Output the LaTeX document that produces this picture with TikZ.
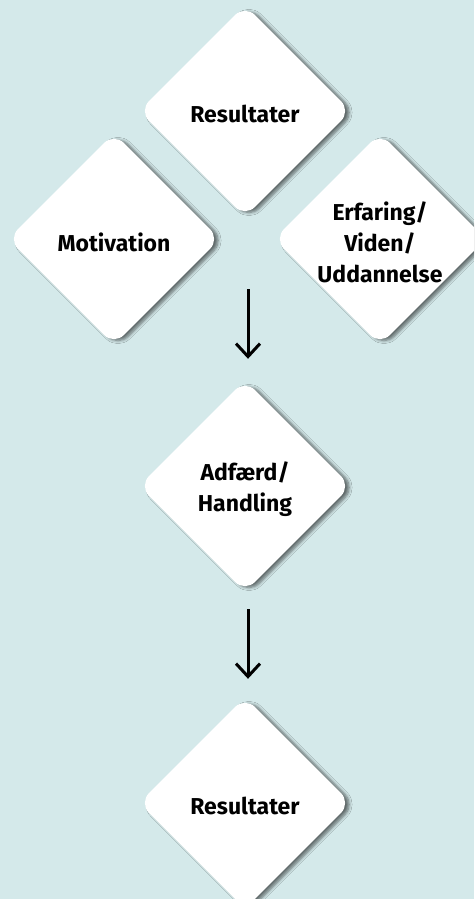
\documentclass[tikz,border=0pt]{standalone}
\usepackage{fontspec}
\setmainfont{Fira Sans}
\usetikzlibrary{arrows.meta,shapes.geometric,shadows.blur}
\definecolor{bgcol}{RGB}{212,233,234}

\begin{document}
\begin{tikzpicture}[x=1pt,y=1pt,
    dia/.style={diamond,fill=white,minimum width=212pt,minimum height=212pt,
      inner sep=0pt,rounded corners=14pt,
      blur shadow={shadow xshift=4pt,shadow yshift=-1.5pt,shadow blur steps=6,
        shadow blur radius=3pt,shadow opacity=55}},
    txt/.style={font=\bfseries\fontsize{23}{31}\selectfont,align=center,yshift=-3pt},
    flow/.style={line width=3pt,-{Straight Barb[length=13pt,width=24pt,line width=3pt]}}]
  \fill[bgcol] (0,0) rectangle (474,899);
  \useasboundingbox (0,0) rectangle (474,899);
  \clip (0,0) rectangle (474,899);
  % the three sources on top
  \node[dia,label={[txt]center:Motivation}] (motiv) at (114,660) {};
  \node[dia,label={[txt]center:Erfaring/\\Viden/\\Uddannelse}] (erf) at (380,660) {};
  \node[dia,label={[txt]center:Resultater}] (resT) at (245,788) {};
  % middle and bottom
  \node[dia,label={[txt]center:Adf\ae rd/\\Handling}] (adf) at (245,413) {};
  \node[dia,label={[txt]center:Resultater}] (resB) at (245,96) {};
  \draw[flow,shorten <=72pt,shorten >=21pt] ([xshift=3pt]resT.south) -- ([xshift=3pt]adf.north);
  \draw[flow,shorten <=17pt,shorten >=18pt] ([xshift=3pt]adf.south) -- ([xshift=3pt]resB.north);
\end{tikzpicture}
\end{document}
